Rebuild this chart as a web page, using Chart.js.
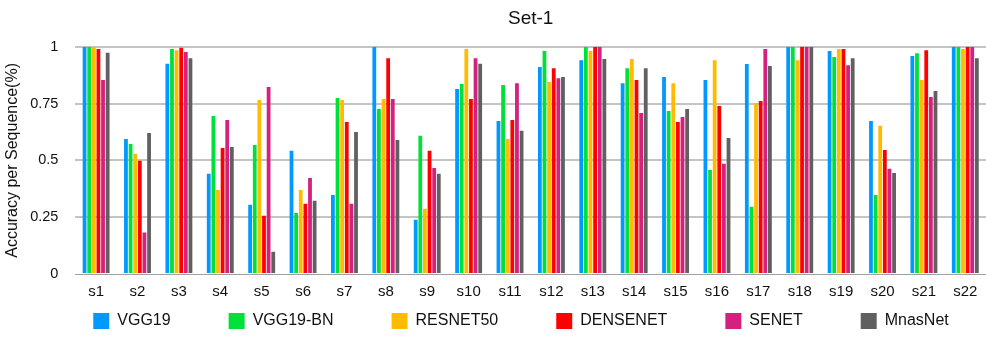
<!DOCTYPE html>
<html>
<head>
<meta charset="utf-8">
<script src="https://cdn.jsdelivr.net/npm/chart.js@4.4.0/dist/chart.umd.min.js"></script>
<style>
  html, body { margin: 0; padding: 0; background: #fff; }
  #wrap { width: 986px; height: 338px; }
</style>
</head>
<body>
<div id="wrap"><canvas id="chart"></canvas></div>
<script>
var secuencias = ['s1', 's2', 's3', 's4', 's5', 's6', 's7', 's8', 's9', 's10', 's11',
    's12', 's13', 's14', 's15', 's16', 's17', 's18', 's19', 's20', 's21', 's22'];

var vgg19 = [1.0, 0.594, 0.925, 0.441, 0.305, 0.542, 0.348, 1.0, 0.239, 0.814, 0.673,
    0.911, 0.941, 0.840, 0.867, 0.854, 0.924, 1.0, 0.981, 0.673, 0.959, 1.0];
var vgg19bn = [1.0, 0.572, 0.990, 0.695, 0.568, 0.269, 0.775, 0.726, 0.608, 0.836, 0.832,
    0.981, 1.0, 0.906, 0.717, 0.458, 0.296, 1.0, 0.955, 0.348, 0.972, 1.0];
var resnet50 = [1.0, 0.529, 0.985, 0.370, 0.766, 0.370, 0.766, 0.770, 0.287, 0.990, 0.594,
    0.845, 0.981, 0.946, 0.840, 0.941, 0.753, 0.941, 0.990, 0.652, 0.854, 0.990];
var densenet = [0.990, 0.498, 0.996, 0.555, 0.256, 0.309, 0.669, 0.950, 0.542, 0.770, 0.678,
    0.906, 1.0, 0.854, 0.669, 0.739, 0.761, 1.0, 0.990, 0.546, 0.985, 1.0];
var senet = [0.854, 0.183, 0.977, 0.678, 0.823, 0.423, 0.309, 0.770, 0.467, 0.950, 0.840,
    0.862, 1.0, 0.709, 0.691, 0.485, 0.990, 1.0, 0.919, 0.463, 0.779, 1.0];
var mnasnet = [0.974, 0.621, 0.950, 0.559, 0.098, 0.322, 0.625, 0.590, 0.441, 0.925, 0.630,
    0.867, 0.946, 0.906, 0.726, 0.599, 0.915, 1.0, 0.950, 0.445, 0.805, 0.950];

var yTicks = [0, 0.25, 0.5, 0.75, 1];

var fuente = 'Helvetica, "Liberation Sans", Arial, sans-serif';
var transparente = 'rgba(0,0,0,0)';

// mueve el titulo sobre el area del grafico y desplaza la leyenda
var ajusteCajas = {
    id: 'ajusteCajas',
    afterLayout: function (chart) {
        var area = chart.chartArea;
        if (chart.titleBlock) {
            chart.titleBlock.left = area.left;
            chart.titleBlock.right = area.right;
        }
        var leg = chart.legend;
        if (leg) {
            var pad = leg.options.labels.padding;
            leg.left += 28;
            leg.right += 28;
            leg.top = 313 - pad;
        }
    }
};

var ctx = document.getElementById('chart').getContext('2d');

var chart = new Chart(ctx, {
    type: 'bar',
    data: {
        labels: secuencias,
        datasets: [
            {label: 'VGG19', data: vgg19, backgroundColor: '#0099FF'},
            {label: 'VGG19-BN', data: vgg19bn, backgroundColor: '#00E03A'},
            {label: 'RESNET50', data: resnet50, backgroundColor: '#FFBB00'},
            {label: 'DENSENET', data: densenet, backgroundColor: '#FF0000'},
            {label: 'SENET', data: senet, backgroundColor: '#D4207E'},
            {label: 'MnasNet', data: mnasnet, backgroundColor: '#606060'}
        ]
    },
    options: {
        responsive: true,
        maintainAspectRatio: false,
        animation: false,
        categoryPercentage: 0.67,
        barPercentage: 0.82,
        layout: {padding: 0},
        plugins: {
            title: {
                display: true,
                text: 'Set-1',
                color: '#111',
                font: {family: fuente, size: 19, weight: 'normal'},
                padding: {top: 7, bottom: 17}
            },
            legend: {
                position: 'bottom',
                maxHeight: 37,
                labels: {
                    boxWidth: 16,
                    boxHeight: 16,
                    padding: 58,
                    color: '#111',
                    font: {family: fuente, size: 16}
                }
            },
            tooltip: {enabled: false}
        },
        scales: {
            x: {
                grid: {
                    display: true,
                    drawOnChartArea: false,
                    drawTicks: true,
                    tickLength: 9,
                    tickColor: transparente
                },
                border: {display: true, color: '#a0a0a0', width: 1},
                ticks: {
                    color: '#111',
                    padding: 0,
                    font: {family: fuente, size: 15}
                }
            },
            y: {
                min: 0,
                max: 1,
                afterBuildTicks: function (axis) {
                    axis.ticks = yTicks.map(function (v) { return {value: v}; });
                },
                grid: {
                    drawTicks: true,
                    tickLength: 17,
                    tickColor: transparente,
                    lineWidth: 2,
                    color: function (c) {
                        return c.tick && c.tick.value === 0 ? transparente : '#c4c4c4';
                    }
                },
                border: {display: false},
                ticks: {
                    color: '#111',
                    padding: 0,
                    font: {family: fuente, size: 14.5},
                    callback: function (v) { return String(v); }
                },
                title: {
                    display: true,
                    text: 'Accuracy per Sequence(%)',
                    color: '#111',
                    font: {family: fuente, size: 16},
                    padding: {top: 3, bottom: 8}
                }
            }
        }
    },
    plugins: [ajusteCajas]
});
</script>
</body>
</html>
